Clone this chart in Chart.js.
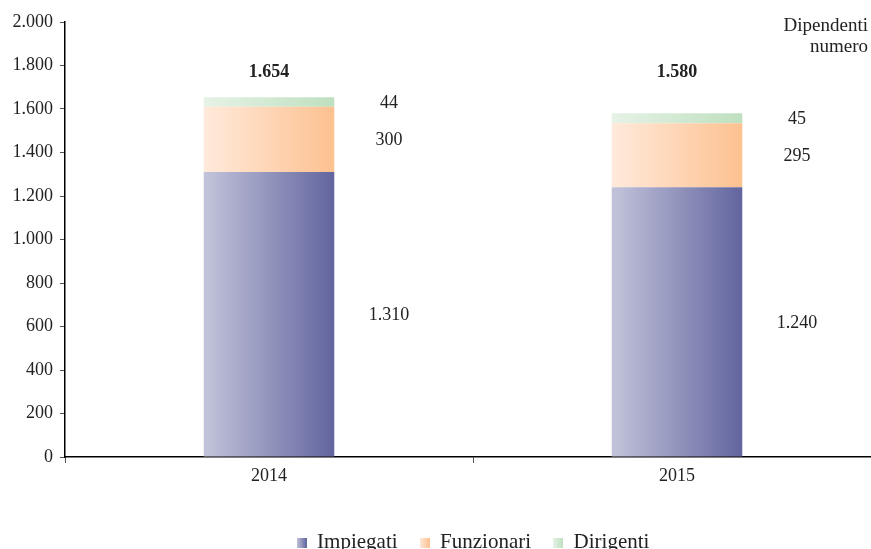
<!DOCTYPE html>
<html>
<head>
<meta charset="utf-8">
<script src="https://cdn.jsdelivr.net/npm/chart.js@4/dist/chart.umd.min.js"></script>
<style>
  html, body { margin: 0; background: #fff; overflow: hidden; }
  #wrap { position: relative; width: 871px; height: 549px; overflow: hidden; }
</style>
</head>
<body>
<div id="wrap"><canvas id="chart" width="881" height="549"></canvas></div>
<script>
var years = ['2014', '2015'];
var impiegati = [1310, 1240];
var funzionari = [300, 295];
var dirigenti = [44, 45];
var totals = [1654, 1580];
var yTicks = [0, 200, 400, 600, 800, 1000, 1200, 1400, 1600, 1800, 2000];

var serif = '"Liberation Serif", "Times New Roman", serif';
var textColor = '#222';
var barPct = 0.32;

// left/right colours of the horizontal gradient per series
var shades = [
    ['#c3c4db', '#62659e'],
    ['#ffeadb', '#fdc190'],
    ['#e6f2e6', '#bee0bf']
];

function fmt(v) {
    return v.toString().replace(/\B(?=(\d{3})+(?!\d))/g, '.');
}

function legendIcon(pair) {
    var c = document.createElement('canvas');
    c.width = 10; c.height = 10;
    var g = c.getContext('2d');
    var grad = g.createLinearGradient(0, 0, 10, 0);
    grad.addColorStop(0, pair[0]);
    grad.addColorStop(1, pair[1]);
    g.fillStyle = grad;
    g.fillRect(0, 0, 10, 10);
    return c;
}

// one gradient per bar, running from its left edge to its right edge
function barGradient(i) {
    return function (context) {
        var chart = context.chart;
        var xs = chart.scales.x;
        if (!chart.chartArea || !xs || context.dataIndex === undefined) return shades[i][1];
        var w = xs.width / chart.data.labels.length * barPct;
        var left = xs.getPixelForValue(context.dataIndex) - w / 2;
        var grad = chart.ctx.createLinearGradient(left, 0, left + w, 0);
        grad.addColorStop(0, shades[i][0]);
        grad.addColorStop(1, shades[i][1]);
        return grad;
    };
}

var barLabels = {
    id: 'barLabels',
    afterLayout: function (chart) {
        // centre the legend under the plot area, like the original
        chart.legend.left = chart.chartArea.left;
        chart.legend.right = chart.chartArea.right;
    },
    afterDatasetsDraw: function (chart) {
        var ctx = chart.ctx;
        ctx.save();
        ctx.fillStyle = textColor;
        ctx.textAlign = 'center';
        ctx.textBaseline = 'middle';
        ctx.font = '18px ' + serif;
        chart.data.datasets.forEach(function (ds, i) {
            chart.getDatasetMeta(i).data.forEach(function (bar, j) {
                var mid = (bar.y + bar.base) / 2;
                ctx.fillText(fmt(ds.data[j]), bar.x + 120, mid + 1);
            });
        });
        var yScale = chart.scales.y;
        var top = chart.getDatasetMeta(2).data;
        ctx.font = 'bold 18px ' + serif;
        totals.forEach(function (t, j) {
            ctx.fillText(fmt(t), top[j].x, yScale.getPixelForValue(1770));
        });
        ctx.font = '19px ' + serif;
        ctx.textAlign = 'right';
        ctx.fillText('Dipendenti', 868, 26);
        ctx.fillText('numero', 868, 47);
        ctx.restore();
    }
};

function series(label, data, i) {
    return {
        label: label,
        data: data,
        backgroundColor: barGradient(i),
        barPercentage: barPct,
        categoryPercentage: 1,
        borderWidth: 0
    };
}

new Chart(document.getElementById('chart').getContext('2d'), {
    type: 'bar',
    data: {
        labels: years,
        datasets: [
            series('Impiegati', impiegati, 0),
            series('Funzionari', funzionari, 1),
            series('Dirigenti', dirigenti, 2)
        ]
    },
    options: {
        responsive: false,
        animation: false,
        layout: { padding: { top: 22, right: 0, left: 0, bottom: -14 } },
        scales: {
            x: {
                stacked: true,
                border: { color: '#000', width: 1.5 },
                grid: { drawOnChartArea: false, tickLength: 6, color: '#555' },
                ticks: { color: textColor, font: { family: serif, size: 18 }, padding: 2 },
                afterFit: function (scale) { scale.height = 53; }
            },
            y: {
                stacked: true,
                min: 0,
                max: 2000,
                afterBuildTicks: function (scale) {
                    scale.ticks = yTicks.map(function (v) { return { value: v }; });
                },
                border: { color: '#000', width: 1.5 },
                grid: { drawOnChartArea: false, tickLength: 5, color: '#555' },
                ticks: {
                    color: textColor,
                    font: { family: serif, size: 18 },
                    padding: 7,
                    callback: function (v) { return fmt(v); }
                },
                afterFit: function (scale) { scale.width = 65; }
            }
        },
        plugins: {
            legend: {
                position: 'bottom',
                labels: {
                    color: textColor,
                    font: { family: serif, size: 21 },
                    usePointStyle: true,
                    boxWidth: 10,
                    boxHeight: 10,
                    padding: 22,
                    generateLabels: function (chart) {
                        return chart.data.datasets.map(function (ds, i) {
                            return {
                                text: ds.label,
                                pointStyle: legendIcon(shades[i]),
                                fillStyle: shades[i][1],
                                strokeStyle: 'transparent',
                                lineWidth: 0,
                                datasetIndex: i,
                                fontColor: textColor
                            };
                        });
                    }
                }
            },
            tooltip: { enabled: false }
        }
    },
    plugins: [barLabels]
});
</script>
</body>
</html>
